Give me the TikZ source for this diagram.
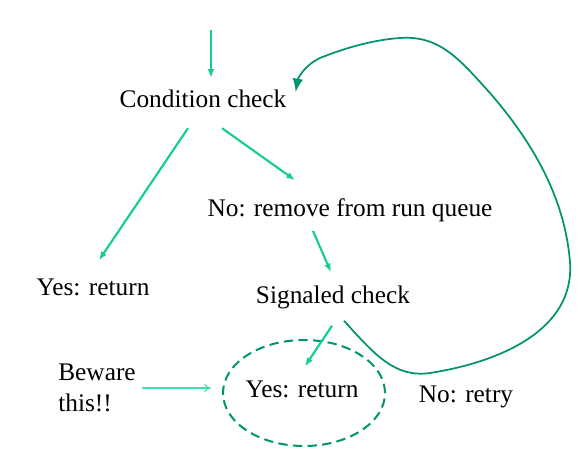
\documentclass[tikz,border=0pt]{standalone}
\usepackage{fontspec}
\setmainfont{Liberation Serif}
\usetikzlibrary{arrows.meta,shapes.geometric}
\definecolor{lightg}{HTML}{14CC96}
\definecolor{darkg}{HTML}{00936E}
\definecolor{paleg}{HTML}{3FE0B0}
\begin{document}
\begin{tikzpicture}[x=0.75pt,y=-0.75pt,
  lbl/.style={inner sep=0pt,font=\fontsize{19}{23}\selectfont},
  flow/.style={draw=lightg,line width=1.6pt,-{Latex[length=6.5pt,width=5pt]}},
  back/.style={draw=darkg,line width=1.3pt,-{Latex[length=10pt,width=8pt]}},
  note/.style={draw=paleg,line width=0.8pt,-{To[length=5pt,width=6pt]}}]
\useasboundingbox (0,0) rectangle (579,461);
\node[lbl] (cond) at (203,99) {Condition check};
\node[lbl] (rem) at (350,210) {No: remove from run queue};
\node[lbl] (yes1) at (93,287) {Yes: return};
\node[lbl] (sig) at (333,297) {Signaled check};
\node[lbl] (yes2) at (302,389) {Yes: return};
\node[draw=darkg,line width=1.5pt,dash pattern=on 7pt off 4pt,ellipse,minimum width=162*0.75pt,minimum height=106*0.75pt] (ell) at (304,393) {};
\node[lbl,align=left] (bew) at (97,388) {Beware\\this!!};
\node[lbl] (retry) at (466,397) {No: retry};
\coordinate (entry) at (211,30);
\draw[flow] (entry) -- ([shift={(8,-12)}]cond.north);
\draw[flow] ([shift={(-15,20)}]cond.south) -- ([shift={(6,-18)}]yes1.north);
\draw[flow] ([shift={(19,20)}]cond.south) -- ([shift={(-55,-18)}]rem.north);
\draw[flow] ([shift={(-37,9)}]rem.south) -- ([shift={(-2,-13)}]sig.north);
\draw[flow] ([shift={(-1,17)}]sig.south) -- ([shift={(3,-14)}]yes2.north);
\draw[note] ([shift={(6,0)}]bew.east) -- ([shift={(-11,-5)}]ell.west);
\draw[back] ([shift={(11,12)}]sig.south) .. controls (375,355) and (395,378) .. (430,373)
  .. controls (500,362) and (575,330) .. (570,262)
  .. controls (565,200) and (535,145) .. (490,93)
  .. controls (460,60) and (440,35) .. (400,38)
  .. controls (370,40) and (340,50) .. (320,58)
  .. controls (305,65) and (298,78) .. ([shift={(9,-7)}]cond.east);
\end{tikzpicture}
\end{document}
